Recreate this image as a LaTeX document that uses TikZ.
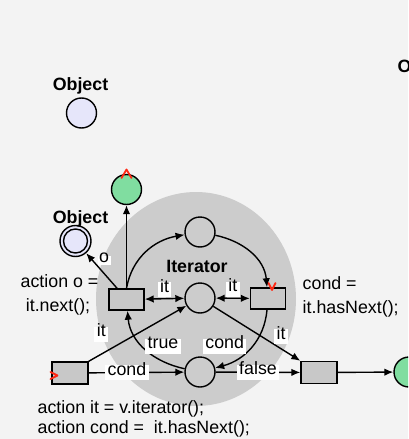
\documentclass[tikz,border=0pt]{standalone}
\usepackage{fontspec}
\setmainfont{Liberation Sans}
\usetikzlibrary{arrows.meta}
\definecolor{bgcol}{RGB}{243,243,243}
\definecolor{diskcol}{RGB}{204,204,204}
\definecolor{boxcol}{RGB}{200,200,200}
\definecolor{objcol}{RGB}{230,230,250}
\definecolor{goalcol}{RGB}{128,221,160}
\definecolor{markcol}{RGB}{255,40,20}
\begin{document}
\begin{tikzpicture}[x=1pt,y=-1pt,
  font=\fontsize{17.8}{21}\selectfont,
  line width=1.4pt,
  tip/.style={-{Latex[length=9pt,width=7.5pt]}},
  twotip/.style={{Latex[length=9pt,width=7.5pt]}-{Latex[length=9pt,width=7.5pt]}},
  place/.style={circle,draw,minimum size=30pt,inner sep=0pt,fill=diskcol},
  objplace/.style={place,fill=objcol},
  goalplace/.style={place,fill=goalcol},
  trans/.style={rectangle,draw,minimum width=35pt,minimum height=21pt,inner sep=0pt,fill=boxcol},
  lab/.style={fill=white,inner sep=2.5pt,text height=0.75em,text depth=0.25em},
  txt/.style={inner sep=0pt},
  redmark/.style={draw=markcol,line width=1.8pt,line cap=round,line join=round}]
% canvas
\fill[bgcol] (0,0) rectangle (408,439);
\useasboundingbox (0,0) rectangle (408,439);
\clip (0,0) rectangle (408,439);

% iterator region
\fill[diskcol] (196,299) ellipse [x radius=100, y radius=107];

% places
\node[objplace] (obj) at (81.5,113) {};
\node[objplace,minimum size=31pt] (dc) at (75.5,241) {};
\draw (dc.center) circle [radius=12];
\node[goalplace] (gt) at (126.5,189.5) {};
\node[goalplace] (gr) at (409,372) {};
\node[place] (tp) at (200,232) {};
\node[place] (mp) at (200,298) {};
\node[place] (bp) at (200,372) {};

% transitions
\node[trans] (lt) at (126.5,299.5) {};
\node[trans] (rt) at (268,298.5) {};
\node[trans,minimum width=36pt,minimum height=22pt] (bl) at (70,373) {};
\node[trans,minimum width=36pt,minimum height=22pt] (br) at (319,372.5) {};

% texts
\node[txt,font=\bfseries\fontsize{17.8}{21}\selectfont,anchor=base] (t1) at (80.5,90.5) {Object};
\node[txt,font=\bfseries\fontsize{17.8}{21}\selectfont,anchor=base] (t2) at (80.5,223) {Object};
\node[txt,font=\bfseries\fontsize{17.8}{21}\selectfont,anchor=base west] (t3) at (397,72.6) {Object};
\node[txt,font=\bfseries\fontsize{17.8}{21}\selectfont,anchor=base] (t4) at (197,272.5) {Iterator};
\node[txt,anchor=base] (t5) at (59.5,287) {action o =};
\node[txt,anchor=base] (t6) at (58,311) {it.next();};
\node[txt,anchor=base west] (t7) at (302,289) {cond =};
\node[txt,anchor=base west] (t8) at (302,313) {it.hasNext();};
\node[txt,anchor=base west] (t9) at (37,413) {action it = v.iterator();};
\node[txt,anchor=base west] (t10) at (37,433) {action cond =\ \ it.hasNext();};

% curved arcs round the iterator
\draw[tip] (lt.north) to[out=80,in=190] (tp);
\draw[tip] (tp) to[out=-12,in=95] (rt);
\draw[tip] (rt) to[out=-95,in=15]
  node[lab,pos=0.5,anchor=east,xshift=-4pt,yshift=1pt] (lcond) {cond} (bp);
\draw[tip] (bp) to[out=168,in=-85]
  node[lab,pos=0.5,anchor=west,xshift=-1pt,yshift=3pt] (ltrue) {true} (lt);

% straight arcs
\draw[tip] (lt.north) -- (gt);
\draw[tip] (lt.130) -- (dc)
  node[lab,pos=0.45,text height=0.55em,text depth=0.05em,inner sep=1.5pt,xshift=1pt,yshift=12pt] (lo) {o};
\draw[twotip] (lt) -- (mp) node[lab,midway,yshift=9pt] (lit1) {it};
\draw[twotip] (mp) -- (rt) node[lab,midway,yshift=9pt] (lit2) {it};
\draw[tip] (bl.north east) -- (mp)
  node[lab,pos=0.13,yshift=20pt] (lit3) {it};
\draw[tip] (bl) -- (bp) node[lab,pos=0.4] (lcond2) {cond};
\draw[tip] (mp) -- (br.north west)
  node[lab,pos=0.78,yshift=12pt] (lit4) {it};
\draw[tip] (bp) -- (br) node[lab,midway] (lfalse) {false};
\draw[tip] (br) -- (gr);

% markers
\draw[redmark] (121.5,178) -- (126.5,169.5) -- (131.5,178);
\draw[redmark] (268.5,283) -- (272,290) -- (275.5,283);
\draw[redmark] (50.5,372) -- (57.5,375.5) -- (50.5,379);
\end{tikzpicture}
\end{document}
